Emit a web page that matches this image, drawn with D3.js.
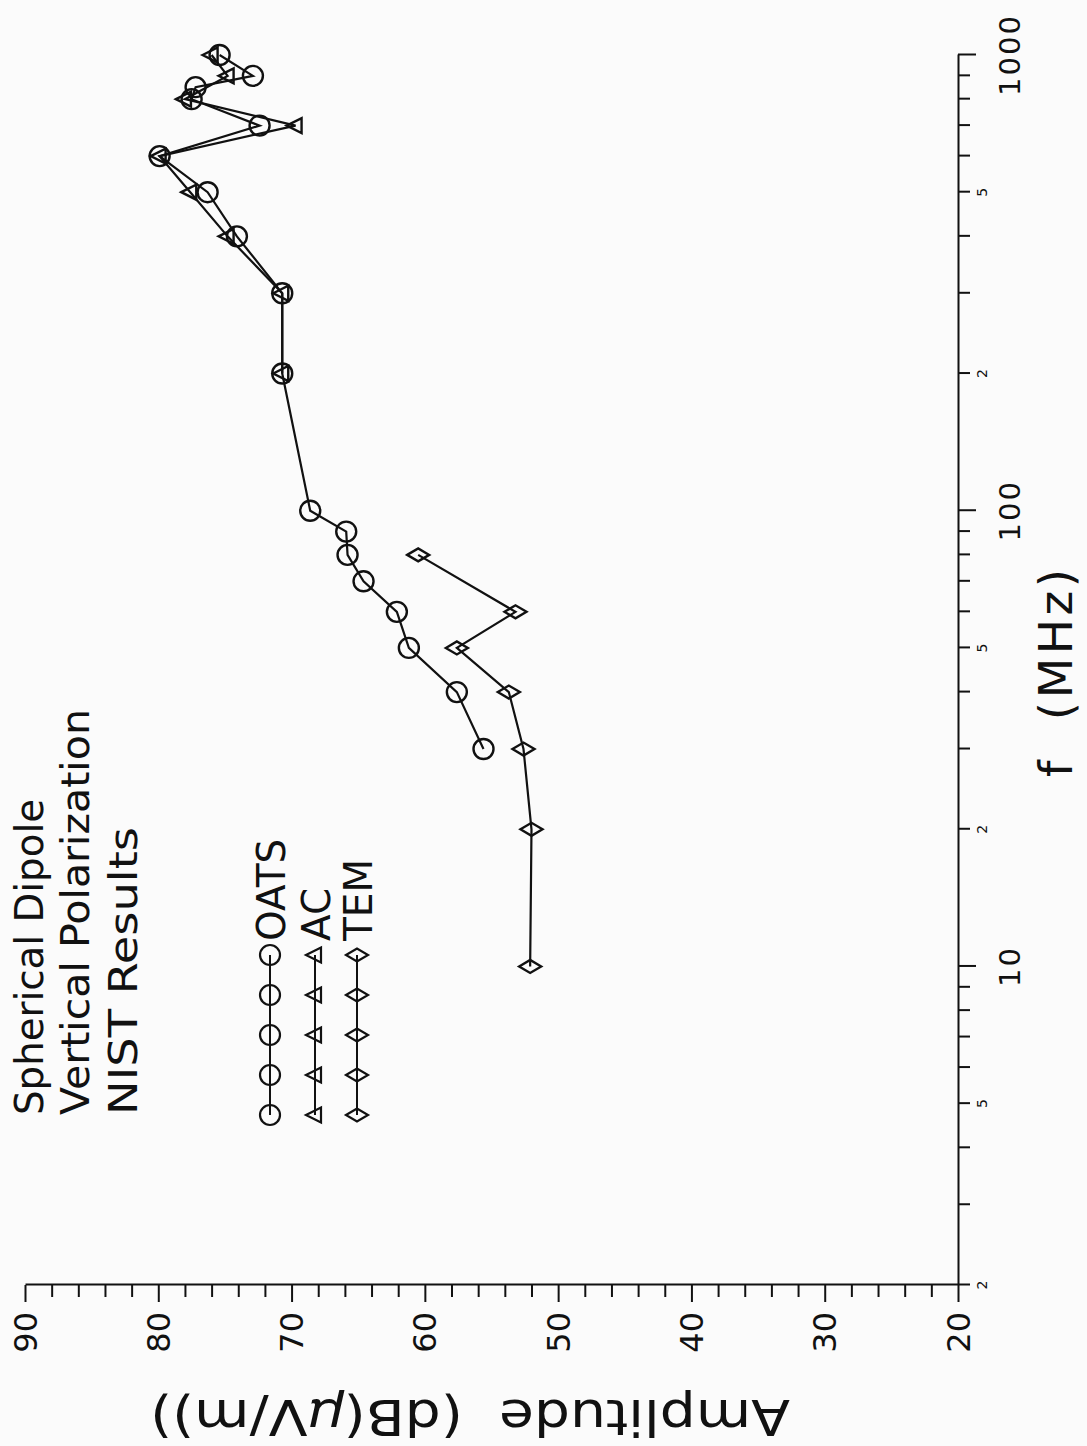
<!DOCTYPE html>
<html>
<head>
<meta charset="utf-8">
<script src="https://cdn.jsdelivr.net/npm/d3@7"></script>
<style>
  body { margin: 0; background: #fbfbfb; }
  svg { display: block; }
  text { font-family: "DejaVu Sans", sans-serif; fill: #111; }
</style>
</head>
<body>
<div id="chart"></div>
<script>
const oatsFreq = [30, 40, 50, 60, 70, 80, 90, 100, 200, 300, 400, 500, 600, 700, 800, 850, 900, 1000];
const oatsAmp  = [55.6, 57.6, 61.2, 62.1, 64.6, 65.8, 65.9, 68.6, 70.7, 70.7, 74.1, 76.3, 79.9, 72.4, 77.5, 77.2, 72.9, 75.4];
const acFreq = [200, 300, 400, 500, 600, 700, 800, 900, 1000];
const acAmp  = [70.7, 70.7, 74.8, 77.6, 79.9, 69.7, 78.0, 74.8, 76.0];
const temFreq = [10, 20, 30, 40, 50, 60, 80];
const temAmp  = [52.1, 52.0, 52.6, 53.7, 57.6, 53.2, 60.5];

const ampLabels = [20, 30, 40, 50, 60, 70, 80, 90];
const ampMinor = d3.range(20, 91, 2);
const freqTicks = [2,3,4,5,6,7,8,9,10,20,30,40,50,60,70,80,90,100,200,300,400,500,600,700,800,900,1000];
const freqDecades = [10, 100, 1000];
const freqSmall = [2, 5, 20, 50, 200, 500];

const titleLines = ['Spherical Dipole', 'Vertical Polarization', 'NIST Results'];
const titleLengths = [316, 406, 288];
const legendNames = ['OATS', 'AC', 'TEM'];

const W = 1087, H = 1446;

const svg = d3.select('#chart').append('svg')
    .attr('width', W)
    .attr('height', H);

// the whole chart is turned a quarter turn, so build it upright and rotate
const g = svg.append('g')
    .attr('transform', `translate(0,${H}) rotate(-90)`);

const x = d3.scaleLog().domain([2, 1000]).range([H - 1285, H - 55]);
const y = d3.scaleLinear().domain([20, 90]).range([958, 25]);

// amplitude axis
const yAxis = g.append('g')
    .attr('transform', `translate(${x(2)},0)`)
    .call(d3.axisLeft(y).tickValues(ampMinor).tickSize(12).tickSizeOuter(0).tickFormat(''));
yAxis.selectAll('.tick line')
    .attr('x2', d => ampLabels.includes(d) ? -17 : -12);

// frequency axis
const xAxis = g.append('g')
    .attr('transform', `translate(0,${y(20)})`)
    .call(d3.axisBottom(x).tickValues(freqTicks).tickSize(12).tickSizeOuter(0).tickFormat(''));
xAxis.selectAll('.tick line')
    .attr('y2', d => freqDecades.includes(d) ? 18 : 12);

g.selectAll('.domain, .tick line')
    .attr('stroke', '#111')
    .attr('stroke-width', 2);

g.selectAll('.amp-label')
    .data(ampLabels)
    .enter()
    .append('text')
    .attr('x', x(2) - 27)
    .attr('y', d => y(d))
    .attr('dy', '0.36em')
    .attr('text-anchor', 'end')
    .style('font-size', '32px')
    .text(d => d);

g.selectAll('.freq-big')
    .data(freqDecades)
    .enter()
    .append('text')
    .attr('x', d => x(d))
    .attr('y', y(20) + 62)
    .attr('text-anchor', 'middle')
    .style('font-size', '29px')
    .style('letter-spacing', '2px')
    .text(d => d);

g.selectAll('.freq-small')
    .data(freqSmall)
    .enter()
    .append('text')
    .attr('x', d => x(d))
    .attr('y', y(20) + 29)
    .attr('text-anchor', 'middle')
    .style('font-size', '14px')
    .text(d => String(d)[0]);

// axis titles
g.append('text')
    .attr('x', H - 673)
    .attr('y', 1072)
    .attr('text-anchor', 'middle')
    .attr('xml:space', 'preserve')
    .attr('textLength', 208)
    .attr('lengthAdjust', 'spacing')
    .style('font-size', '47px')
    .text('f  (MHz)');

const ampTitle = g.append('text')
    .attr('transform', `translate(${H - 1400},470) rotate(-90)`)
    .attr('text-anchor', 'middle')
    .attr('xml:space', 'preserve')
    .attr('textLength', 640)
    .attr('lengthAdjust', 'spacingAndGlyphs')
    .style('font-size', '50px');
ampTitle.append('tspan').text('Amplitude  (dB(');
ampTitle.append('tspan').style('font-style', 'italic').text('μ');
ampTitle.append('tspan').text('V/m))');

// titles
const titleU = H - 1115;
g.selectAll('.title')
    .data(titleLines)
    .enter()
    .append('text')
    .attr('x', titleU)
    .attr('y', (d, i) => [43, 89, 137][i])
    .attr('textLength', (d, i) => titleLengths[i])
    .attr('lengthAdjust', 'spacingAndGlyphs')
    .style('font-size', '39px')
    .text(d => d);

// markers
const circlePath = d3.symbol().type(d3.symbolCircle).size(Math.PI * 100)();
const triPath = 'M0,-9L7.5,6L-7.5,6Z';
const diaPath = 'M0,-11L6.5,0L0,11L-6.5,0Z';

const series = [
    { freq: oatsFreq, amp: oatsAmp, path: circlePath },
    { freq: acFreq, amp: acAmp, path: triPath },
    { freq: temFreq, amp: temAmp, path: diaPath }
];

const line = d3.line()
    .x(d => x(d[0]))
    .y(d => y(d[1]));

series.forEach(s => {
    const pts = s.freq.map((f, i) => [f, s.amp[i]]);
    g.append('path')
        .datum(pts)
        .attr('d', line)
        .attr('fill', 'none')
        .attr('stroke', '#111')
        .attr('stroke-width', 2.2);
    g.selectAll(null)
        .data(pts)
        .enter()
        .append('path')
        .attr('d', s.path)
        .attr('transform', d => `translate(${x(d[0])},${y(d[1])})`)
        .attr('fill', 'none')
        .attr('stroke', '#111')
        .attr('stroke-width', 2.4);
});

// legend, left-aligned with the title block
const legendV = [270, 315, 357];
const legendStep = 40;
series.forEach((s, i) => {
    const us = d3.range(5).map(k => titleU + k * legendStep);
    g.append('line')
        .attr('x1', us[0]).attr('x2', us[4])
        .attr('y1', legendV[i]).attr('y2', legendV[i])
        .attr('stroke', '#111')
        .attr('stroke-width', 2);
    us.forEach(u => {
        g.append('path')
            .attr('d', s.path)
            .attr('transform', `translate(${u},${legendV[i]})`)
            .attr('fill', 'none')
            .attr('stroke', '#111')
            .attr('stroke-width', 2.2);
    });
    g.append('text')
        .attr('x', us[4] + 14)
        .attr('y', legendV[i] + 15)
        .style('font-size', '39px')
        .text(legendNames[i]);
});
</script>
</body>
</html>
